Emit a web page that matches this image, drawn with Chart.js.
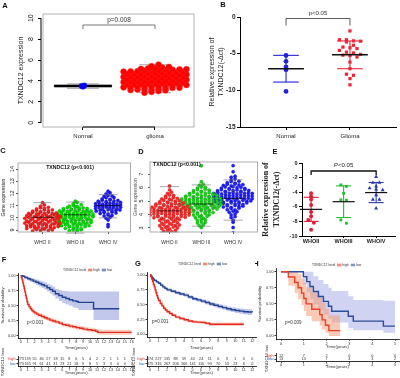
<!DOCTYPE html>
<html>
<head>
<meta charset="utf-8">
<script src="https://cdn.jsdelivr.net/npm/chart.js@4.4.1/dist/chart.umd.min.js"></script>
<style>
  html, body { margin: 0; padding: 0; background: #fff; }
  #wrap { position: relative; width: 400px; height: 378px; overflow: hidden; }
  #wrap canvas { position: absolute; }
</style>
</head>
<body>
<div id="wrap"></div>
<script>
// ---------- A: TXNDC12 expression, Normal vs glioma ----------
const catsA = ['Normal', 'glioma'];
const ticksA = [0, 2, 4, 6, 8, 10];
const normalA = [3.42, 3.47, 3.52, 3.56, 3.61];
const gliomaA = [
  2.88, 2.96, 3.05, 3.11,
  3.14, 3.18, 3.21, 3.24, 3.27, 3.31, 3.34, 3.36,
  3.39, 3.42, 3.44, 3.47, 3.49, 3.52, 3.55, 3.57, 3.6, 3.62,
  3.64, 3.67, 3.7, 3.73, 3.75, 3.78, 3.81, 3.84, 3.86,
  3.89, 3.91, 3.94, 3.97, 3.99, 4.02, 4.05, 4.07, 4.1, 4.12,
  4.14, 4.17, 4.2, 4.23, 4.26, 4.28, 4.31, 4.34, 4.36,
  4.39, 4.41, 4.44, 4.47, 4.49, 4.52, 4.55, 4.57, 4.6, 4.62,
  4.64, 4.67, 4.7, 4.73, 4.76, 4.78, 4.81, 4.84, 4.86,
  4.89, 4.91, 4.94, 4.97, 5.0, 5.02, 5.05, 5.08, 5.1, 5.12,
  5.15, 5.19, 5.24, 5.29, 5.33,
  5.41, 5.56
];
const boxA = [[3.3, 3.45, 3.52, 3.6, 3.72], [2.88, 3.6, 4.1, 4.6, 5.55]];
const pA = 'p=0.008';

// ---------- B: qPCR Normal vs Glioma ----------
const catsB = ['Normal', 'Glioma'];
const ticksB = [-15, -10, -5, 0];
const normalB = [-5.25, -6.05, -6.8, -7.2, -10.15];
const gliomaB = [-1.9, -3.1, -3.1, -3.25, -3.3, -3.4, -3.85, -4.1, -4.2, -4.3, -4.55, -4.8, -4.9,
  -5.1, -5.2, -5.25, -5.45, -6.15, -7.05, -7.8, -7.95, -8.4, -9.25];
const meanB = [-7.05, -5.16];
const sdB = [1.82, 1.89];
const pB = 'p<0.05';

// ---------- C: TXNDC12 by WHO grade (dataset 1) ----------
const catsC = ['WHO II', 'WHO III', 'WHO IV'];
const ticksC = [9, 10, 11, 12, 13, 14];
const whoC2 = [
  8.92, 9.05, 8.97, 9.08, 8.95, 9.01,
  9.13, 9.27, 9.18, 9.22, 9.11, 9.25, 9.16, 9.2, 9.29,
  9.36, 9.42, 9.31, 9.47, 9.39, 9.44, 9.33, 9.49, 9.41,
  9.57, 9.63, 9.52, 9.68, 9.6, 9.55, 9.66, 9.51, 9.64, 9.58,
  9.74, 9.83, 9.71, 9.88, 9.79, 9.85, 9.76, 9.81, 9.89,
  9.96, 10.04, 9.92, 10.08, 10.01, 9.94, 10.06, 9.98, 10.03, 10.09,
  10.17, 10.24, 10.12, 10.28, 10.19, 10.22, 10.14, 10.26, 10.21,
  10.36, 10.43, 10.32, 10.47, 10.39, 10.45, 10.34, 10.41,
  10.55, 10.62, 10.51, 10.67, 10.58, 10.64,
  10.74, 10.83, 10.77, 10.86,
  10.96, 11.05, 11.24
];
const whoC3 = [
  8.77, 8.84,
  8.94, 9.06, 8.98, 9.03,
  9.14, 9.26, 9.19, 9.23, 9.12, 9.28,
  9.35, 9.44, 9.32, 9.48, 9.38, 9.42, 9.46, 9.36,
  9.57, 9.64, 9.52, 9.68, 9.61, 9.55, 9.66, 9.59, 9.62,
  9.76, 9.84, 9.72, 9.88, 9.79, 9.82, 9.74, 9.86, 9.8,
  9.95, 10.04, 9.92, 10.07, 9.99, 10.02, 9.97, 10.05, 9.93, 10.09,
  10.16, 10.24, 10.12, 10.27, 10.19, 10.22, 10.14, 10.26, 10.21, 10.18,
  10.35, 10.44, 10.32, 10.48, 10.38, 10.42, 10.36, 10.46, 10.41, 10.33,
  10.56, 10.63, 10.52, 10.68, 10.59, 10.65, 10.54, 10.61, 10.57,
  10.75, 10.84, 10.72, 10.88, 10.79, 10.82, 10.77,
  10.96, 11.04, 10.93, 11.07,
  11.16, 11.26, 11.37
];
const whoC4 = [
  9.27, 9.45, 9.83, 9.96, 10.05,
  10.16, 10.24, 10.19,
  10.36, 10.44, 10.32, 10.47, 10.4,
  10.55, 10.63, 10.52, 10.67, 10.58, 10.61, 10.65,
  10.76, 10.84, 10.72, 10.88, 10.79, 10.82, 10.74, 10.86,
  10.95, 11.04, 10.92, 11.08, 10.99, 11.02, 10.97, 11.06,
  11.16, 11.24, 11.12, 11.28, 11.19, 11.22, 11.14, 11.26,
  11.36, 11.44, 11.32, 11.47, 11.39, 11.42,
  11.56, 11.64, 11.52, 11.67,
  11.76, 11.84, 11.79,
  11.97, 12.06, 12.18
];
const boxC = [[9.0, 9.55, 10.05, 10.45, 11.25], [8.75, 9.8, 10.25, 10.65, 11.3], [10.0, 10.75, 11.0, 11.3, 11.9]];
const titleC = 'TXNDC12 (p<0.001)';

// ---------- D: TXNDC12 by WHO grade (dataset 2) ----------
const catsD = ['WHO II', 'WHO III', 'WHO IV'];
const ticksD = [3, 4, 5, 6, 7];
const whoD2 = [
  6.12, 5.83, 5.57, 5.66, 5.36, 5.44, 5.41,
  5.16, 5.24, 5.13, 5.27, 5.2,
  4.95, 5.04, 4.92, 5.07, 4.98, 5.02,
  4.76, 4.84, 4.72, 4.88, 4.79, 4.82, 4.74, 4.86,
  4.55, 4.64, 4.52, 4.68, 4.59, 4.62, 4.54, 4.66, 4.57, 4.61,
  4.36, 4.44, 4.32, 4.47, 4.38, 4.42, 4.34, 4.46, 4.39, 4.41, 4.37,
  4.16, 4.24, 4.12, 4.27, 4.18, 4.22, 4.14, 4.26, 4.19, 4.21, 4.17,
  3.95, 4.04, 3.92, 4.07, 3.98, 4.02, 3.94, 4.06, 3.99, 4.01, 3.96,
  3.76, 3.84, 3.72, 3.87, 3.79, 3.82, 3.74, 3.86, 3.8,
  3.56, 3.64, 3.52, 3.67, 3.59, 3.62,
  3.36, 3.44, 3.33, 3.47, 3.4,
  3.16, 3.24, 3.12, 3.27, 3.19, 3.22,
  2.96, 3.04, 2.93, 3.07, 3.0,
  2.76, 2.84, 2.73, 2.81, 2.65, 2.58
];
const whoD3 = [
  7.62, 6.43, 6.17, 6.24, 5.96, 6.04, 6.01,
  5.76, 5.84, 5.72, 5.87, 5.8,
  5.56, 5.64, 5.52, 5.67, 5.59, 5.62, 5.54,
  5.36, 5.44, 5.32, 5.47, 5.39, 5.42, 5.34, 5.46, 5.41,
  5.16, 5.24, 5.12, 5.27, 5.19, 5.22, 5.14, 5.26, 5.18, 5.21, 5.17,
  4.96, 5.04, 4.92, 5.07, 4.99, 5.02, 4.94, 5.06, 4.97, 5.01, 4.95,
  4.76, 4.84, 4.72, 4.87, 4.79, 4.82, 4.74, 4.86, 4.78, 4.81, 4.77,
  4.56, 4.64, 4.52, 4.67, 4.59, 4.62, 4.54, 4.66, 4.58, 4.61,
  4.36, 4.44, 4.32, 4.47, 4.39, 4.42, 4.34, 4.46, 4.41,
  4.16, 4.24, 4.12, 4.27, 4.19, 4.22, 4.14,
  3.96, 4.04, 3.92, 4.07, 3.99,
  3.76, 3.84, 3.73, 3.87,
  3.56, 3.64, 3.61, 3.36, 3.44, 3.41,
  3.17, 3.24, 3.03
];
const whoD4 = [
  7.63, 7.18, 6.77, 6.84, 6.56, 6.64,
  6.36, 6.44, 6.33, 6.47,
  6.16, 6.24, 6.12, 6.27, 6.19, 6.22,
  5.96, 6.04, 5.92, 6.07, 5.99, 6.02, 5.94,
  5.76, 5.84, 5.72, 5.87, 5.79, 5.82, 5.74, 5.86, 5.78,
  5.56, 5.64, 5.52, 5.67, 5.59, 5.62, 5.54, 5.66, 5.58, 5.61, 5.57,
  5.36, 5.44, 5.32, 5.47, 5.39, 5.42, 5.34, 5.46, 5.38, 5.41, 5.37,
  5.16, 5.24, 5.12, 5.27, 5.19, 5.22, 5.14, 5.26, 5.18, 5.21, 5.17,
  4.96, 5.04, 4.92, 5.07, 4.99, 5.02, 4.94, 5.06, 4.98, 5.01,
  4.76, 4.84, 4.72, 4.87, 4.79, 4.82, 4.74, 4.86,
  4.56, 4.64, 4.52, 4.67, 4.59, 4.62,
  4.36, 4.44, 4.33, 4.47, 4.17, 4.24, 4.21,
  3.96, 4.04, 3.77, 3.84, 3.58, 3.42, 3.03, 2.63
];
const boxD = [[2.7, 3.75, 4.27, 4.75, 6.07], [3.13, 4.3, 4.78, 5.25, 6.2], [3.58, 4.75, 5.2, 5.65, 6.57]];
const titleD = 'TXNDC12 (p<0.001)';

// ---------- E: qPCR by WHO grade ----------
const catsE = ['WHOII', 'WHOIII', 'WHOIV'];
const ticksE = [-10, -8, -6, -4, -2, 0];
const whoE2 = [-4.15, -4.6, -5.0, -5.75, -6.7, -7.3, -7.8, -8.2, -9.15];
const whoE3 = [-3.0, -3.2, -4.15, -5.05, -5.1, -7.8, -8.25];
const whoE4 = [-1.9, -2.7, -2.7, -3.2, -3.45, -3.6, -3.7, -4.4, -5.0, -5.0, -6.2];
const meanE = [-6.35, -5.3, -4.05];
const sdE = [1.65, 2.17, 1.38];
const pE = 'P<0.05';

// ---------- F/G/H: Kaplan-Meier ----------
const groupsKM = ['high', 'low'];
const kmTicks = [0, 0.25, 0.5, 0.75, 1];

const fHiT = [0, 0.1, 0.2, 0.3, 0.4, 0.5, 0.6, 0.7, 0.8, 0.9, 1.0, 1.2, 1.4, 1.6, 1.8, 2.0, 2.3, 2.6, 3.0, 3.4, 3.8, 4.2, 4.6, 5.0, 5.5, 6.0, 6.5, 7.0, 7.5, 8.0, 8.5, 9.0, 9.6, 10.2, 10.8, 11.1, 16];
const fHiS = [1, 0.97, 0.93, 0.88, 0.83, 0.78, 0.73, 0.67, 0.62, 0.57, 0.52, 0.48, 0.45, 0.42, 0.40, 0.38, 0.36, 0.34, 0.32, 0.30, 0.28, 0.26, 0.245, 0.23, 0.21, 0.185, 0.175, 0.16, 0.15, 0.135, 0.125, 0.11, 0.10, 0.09, 0.075, 0.055, 0.055];
const fHiUp = [1, 0.99, 0.96, 0.91, 0.86, 0.81, 0.76, 0.70, 0.655, 0.605, 0.555, 0.515, 0.485, 0.455, 0.435, 0.415, 0.395, 0.375, 0.355, 0.335, 0.315, 0.295, 0.28, 0.265, 0.245, 0.22, 0.21, 0.195, 0.185, 0.17, 0.16, 0.145, 0.135, 0.125, 0.11, 0.1, 0.1];
const fHiLo = [1, 0.95, 0.9, 0.85, 0.8, 0.75, 0.7, 0.64, 0.585, 0.535, 0.485, 0.445, 0.415, 0.385, 0.365, 0.345, 0.325, 0.305, 0.285, 0.265, 0.245, 0.225, 0.21, 0.195, 0.175, 0.15, 0.14, 0.125, 0.115, 0.1, 0.09, 0.075, 0.065, 0.055, 0.04, 0.015, 0.015];
const fLoT = [0, 0.3, 0.6, 1.0, 1.4, 1.8, 2.2, 2.6, 3.0, 3.4, 3.8, 4.2, 4.6, 5.0, 5.5, 6.0, 6.5, 7.0, 7.5, 8.0, 8.3, 10.5, 14.2];
const fLoS = [1, 0.99, 0.97, 0.95, 0.93, 0.91, 0.89, 0.87, 0.85, 0.83, 0.80, 0.77, 0.74, 0.70, 0.67, 0.64, 0.62, 0.60, 0.58, 0.57, 0.555, 0.45, 0.45];
const fLoUp = [1, 1, 0.99, 0.98, 0.965, 0.95, 0.935, 0.92, 0.905, 0.89, 0.865, 0.84, 0.815, 0.78, 0.76, 0.745, 0.74, 0.735, 0.735, 0.735, 0.735, 0.735, 0.735];
const fLoLo = [1, 0.98, 0.95, 0.92, 0.895, 0.87, 0.845, 0.82, 0.795, 0.77, 0.735, 0.70, 0.665, 0.62, 0.58, 0.545, 0.52, 0.50, 0.47, 0.46, 0.43, 0.26, 0.26];
const fYears = [0, 1, 2, 3, 4, 5, 6, 7, 8, 9, 10, 11, 12, 13, 14, 15, 16];
const fRiskHi = [273, 139, 55, 46, 27, 18, 15, 8, 6, 5, 4, 2, 2, 1, 1, 1, 1];
const fRiskLo = [273, 165, 91, 61, 41, 31, 23, 21, 18, 9, 8, 5, 3, 3, 0, 0, 0];
const pF = 'p<0.001';

const gHiT = [0, 0.1, 0.2, 0.3, 0.4, 0.5, 0.6, 0.7, 0.8, 0.9, 1.0, 1.2, 1.4, 1.6, 1.8, 2.0, 2.3, 2.6, 3.0, 3.5, 4.0, 4.5, 5.0, 5.5, 6.0, 6.5, 7.0, 11.0];
const gHiS = [1, 0.97, 0.93, 0.89, 0.84, 0.80, 0.75, 0.70, 0.65, 0.61, 0.57, 0.52, 0.48, 0.44, 0.41, 0.38, 0.35, 0.32, 0.29, 0.265, 0.245, 0.225, 0.21, 0.205, 0.20, 0.185, 0.17, 0.17];
const gHiUp = [1, 0.985, 0.95, 0.91, 0.865, 0.825, 0.775, 0.725, 0.675, 0.635, 0.595, 0.545, 0.505, 0.465, 0.435, 0.405, 0.375, 0.345, 0.315, 0.29, 0.27, 0.25, 0.235, 0.23, 0.225, 0.21, 0.2, 0.2];
const gHiLo = [1, 0.955, 0.91, 0.87, 0.815, 0.775, 0.725, 0.675, 0.625, 0.585, 0.545, 0.495, 0.455, 0.415, 0.385, 0.355, 0.325, 0.295, 0.265, 0.24, 0.22, 0.2, 0.185, 0.18, 0.175, 0.16, 0.14, 0.14];
const gLoT = [0, 0.1, 0.25, 0.4, 0.5, 0.75, 1.0, 1.25, 1.5, 1.75, 2.0, 2.5, 3.0, 3.5, 4.0, 4.5, 5.0, 5.5, 6.0, 6.5, 7.0, 7.5, 8.0, 8.5, 9.0, 9.5, 10.0, 10.5, 11.0, 11.5, 12.0];
const gLoS = [1, 0.98, 0.95, 0.93, 0.91, 0.885, 0.86, 0.83, 0.80, 0.775, 0.75, 0.725, 0.70, 0.68, 0.66, 0.63, 0.60, 0.58, 0.56, 0.535, 0.51, 0.49, 0.47, 0.45, 0.43, 0.415, 0.40, 0.39, 0.38, 0.375, 0.37];
const gLoUp = [1, 0.99, 0.965, 0.95, 0.93, 0.905, 0.88, 0.852, 0.822, 0.799, 0.775, 0.75, 0.726, 0.707, 0.688, 0.66, 0.63, 0.61, 0.592, 0.568, 0.544, 0.525, 0.506, 0.488, 0.47, 0.455, 0.442, 0.434, 0.426, 0.423, 0.42];
const gLoLo = [1, 0.97, 0.935, 0.91, 0.89, 0.865, 0.84, 0.808, 0.778, 0.751, 0.725, 0.7, 0.674, 0.653, 0.632, 0.6, 0.57, 0.55, 0.528, 0.502, 0.476, 0.455, 0.434, 0.412, 0.39, 0.375, 0.358, 0.346, 0.334, 0.327, 0.32];
const gYears = [0, 1, 2, 3, 4, 5, 6, 7, 8, 9, 10, 11, 12];
const gRiskHi = [374, 227, 135, 88, 59, 40, 24, 11, 6, 3, 1, 0, 0];
const gRiskLo = [375, 316, 267, 206, 166, 141, 116, 93, 70, 53, 23, 6, 0];
const pG = 'p=0.001';

const hHiT = [0, 0.32, 0.6, 0.75, 0.9, 1.0, 1.1, 1.35, 1.7, 1.8, 1.95, 2.1, 2.6];
const hHiS = [1, 0.917, 0.833, 0.75, 0.667, 0.583, 0.5, 0.417, 0.333, 0.25, 0.167, 0.083, 0.083];
const hHiUp = [1, 1, 1, 0.96, 0.9, 0.83, 0.76, 0.68, 0.6, 0.52, 0.42, 0.32, 0.32];
const hHiLo = [1, 0.78, 0.67, 0.57, 0.48, 0.39, 0.31, 0.23, 0.16, 0.1, 0.05, 0, 0];
const hLoT = [0, 0.98, 1.13, 1.27, 1.42, 1.64, 1.86, 2.08, 2.22, 2.95, 3.17, 4.49, 5.0];
const hLoS = [1, 0.923, 0.846, 0.769, 0.692, 0.615, 0.538, 0.462, 0.385, 0.308, 0.231, 0.154, 0.154];
const hLoUp = [1, 1, 1, 1, 0.93, 0.87, 0.81, 0.75, 0.7, 0.62, 0.56, 0.55, 0.55];
const hLoLo = [1, 0.8, 0.68, 0.58, 0.49, 0.41, 0.33, 0.27, 0.21, 0.12, 0.09, 0.05, 0.05];
const hYears = [0, 1, 2, 3, 4, 5];
const hRiskHi = [12, 7, 2, 0, 0, 0];
const hRiskLo = [13, 13, 7, 4, 3, 2];
const pH = 'p=0.009';

// ---------- helpers ----------
const SANS = "'Liberation Sans', Arial, sans-serif";
const SERIF = "'Liberation Serif', 'Times New Roman', serif";
Chart.defaults.font.family = SANS;
Chart.defaults.color = '#222';
Chart.defaults.animation = false;
Chart.defaults.events = [];
Chart.defaults.plugins.legend.display = false;
Chart.defaults.plugins.tooltip.enabled = false;

function seg(ctx, x1, y1, x2, y2) {
  ctx.beginPath(); ctx.moveTo(x1, y1); ctx.lineTo(x2, y2); ctx.stroke();
}

function txt(ctx, s, x, y, size, opt = {}) {
  ctx.save();
  ctx.font = (opt.bold ? 'bold ' : '') + size + 'px ' + (opt.family || SANS);
  ctx.fillStyle = opt.color || '#222';
  ctx.textAlign = opt.align || 'left';
  ctx.textBaseline = 'middle';
  ctx.translate(x, y);
  if (opt.rot) ctx.rotate(opt.rot);
  ctx.fillText(s, 0, 0);
  const w = ctx.measureText(s).width;
  ctx.restore();
  return w;
}

// beeswarm-like layout: values binned into rows, spread around the group centre
function swarm(vals, center, rowH, dx, maxHalf) {
  const bins = new Map();
  vals.forEach(v => {
    const k = Math.round(v / rowH);
    if (!bins.has(k)) bins.set(k, []);
    bins.get(k).push(v);
  });
  const out = [];
  bins.forEach(list => {
    const n = list.length;
    const step = n > 1 ? Math.min(dx, 2 * maxHalf / (n - 1)) : 0;
    list.forEach((v, i) => out.push({x: center + (i - (n - 1) / 2) * step, y: v}));
  });
  return out;
}

function axis(p) {
  const font = (size, bold, family) => {
    const f = {size: size, weight: bold ? 'bold' : 'normal'};
    if (family) f.family = family;
    return f;
  };
  const tf = font(p.tsize || 6, p.tbold, p.tfamily);
  tf.lineHeight = p.tlh || 1.2;
  return {
    type: 'linear', min: p.min, max: p.max,
    afterBuildTicks: sc => { sc.ticks = p.ticks.map(v => ({value: v})); },
    ticks: {
      display: p.labels !== false,
      callback: p.fmt || (v => String(v)),
      autoSkip: false, minRotation: 0, maxRotation: 0,
      padding: p.pad ?? 2,
      color: p.color || '#222',
      font: font(p.size || 6, p.bold, p.family)
    },
    grid: {drawOnChartArea: false, drawTicks: true, tickLength: p.tl ?? 3, color: p.tc || '#000', lineWidth: p.tw || 1},
    border: {display: p.border !== false, color: p.bc || '#000', width: p.bw || 1},
    title: {display: !!p.title, text: p.title || '', color: p.titleColor || '#222', padding: p.tpad ?? 0, font: tf}
  };
}

// R-style y tick labels, written parallel to the axis
function rotTicks(ctx, chart, ticks, size, off, color) {
  const y = chart.scales.y, a = chart.chartArea;
  ticks.forEach(v => txt(ctx, String(v), a.left - off, y.getPixelForValue(v), size,
    {rot: -Math.PI / 2, align: 'center', color: color}));
}

function panel(x0, y0, w, h, area, config, hooks) {
  const c = document.createElement('canvas');
  c.width = w; c.height = h;
  c.style.left = x0 + 'px'; c.style.top = y0 + 'px';
  c.style.width = w + 'px'; c.style.height = h + 'px';
  document.getElementById('wrap').appendChild(c);
  const o = config.options;
  o.responsive = false; o.maintainAspectRatio = false; o.devicePixelRatio = 1;
  o.layout = {padding: {left: 0, bottom: 0, top: area.t - y0, right: x0 + w - area.r}};
  o.scales.x.afterFit = s => { s.height = y0 + h - area.b; };
  o.scales.y.afterFit = s => { s.width = area.l - x0; };
  const ctx = c.getContext('2d');
  const T = (s, x, y, size, opt) => txt(ctx, s, x - x0, y - y0, size, opt);
  const hook = k => chart => {
    if (hooks && hooks[k]) { ctx.save(); hooks[k](chart, ctx, T); ctx.restore(); }
  };
  config.plugins = [{id: 'deco', beforeDatasetsDraw: hook('before'), afterDatasetsDraw: hook('after')}];
  return new Chart(c, config);
}

function drawBoxes(ctx, chart, stats, o) {
  const {x, y} = chart.scales;
  const X = v => x.getPixelForValue(v), Y = v => y.getPixelForValue(v);
  stats.forEach((s, i) => {
    const c = i + 1;
    ctx.strokeStyle = o.color; ctx.lineWidth = o.lw;
    ctx.setLineDash(o.dash || []);
    seg(ctx, X(c), Y(s[4]), X(c), Y(s[3]));
    seg(ctx, X(c), Y(s[1]), X(c), Y(s[0]));
    ctx.setLineDash([]);
    seg(ctx, X(c - o.cap), Y(s[4]), X(c + o.cap), Y(s[4]));
    seg(ctx, X(c - o.cap), Y(s[0]), X(c + o.cap), Y(s[0]));
    ctx.strokeStyle = o.boxColor || o.color;
    ctx.strokeRect(X(c - o.w), Y(s[3]), X(c + o.w) - X(c - o.w), Y(s[1]) - Y(s[3]));
    ctx.strokeStyle = o.med; ctx.lineWidth = o.medLw;
    seg(ctx, X(c - o.w), Y(s[2]), X(c + o.w), Y(s[2]));
  });
}

function drawErr(ctx, chart, means, sds, cols, o) {
  const {x, y} = chart.scales;
  const X = v => x.getPixelForValue(v), Y = v => y.getPixelForValue(v);
  means.forEach((m, i) => {
    const c = i + 1, top = Y(m + sds[i]), bot = Y(m - sds[i]);
    ctx.strokeStyle = cols[i]; ctx.lineWidth = o.lw;
    seg(ctx, X(c), top, X(c), bot);
    seg(ctx, X(c - o.cap), top, X(c + o.cap), top);
    seg(ctx, X(c - o.cap), bot, X(c + o.cap), bot);
    ctx.strokeStyle = '#111'; ctx.lineWidth = o.meanLw;
    seg(ctx, X(c - o.mw), Y(m), X(c + o.mw), Y(m));
  });
}

function bracket(ctx, chart, a, b, yPix, drop, color, lw) {
  const x = chart.scales.x;
  const xa = x.getPixelForValue(a), xb = x.getPixelForValue(b);
  ctx.strokeStyle = color; ctx.lineWidth = lw;
  ctx.beginPath();
  ctx.moveTo(xa, yPix + drop); ctx.lineTo(xa, yPix); ctx.lineTo(xb, yPix); ctx.lineTo(xb, yPix + drop);
  ctx.stroke();
  return (xa + xb) / 2;
}

function frame(ctx, chart, color, inset) {
  const a = chart.chartArea;
  ctx.strokeStyle = color; ctx.lineWidth = 0.8;
  ctx.strokeRect(a.left + (inset || 0), a.top, a.right - a.left - (inset || 0), a.bottom - a.top);
}

function pts(t, v) { return t.map((x, i) => ({x: x, y: v[i]})); }

function kmConfig(curves, axes) {
  const ds = [];
  curves.forEach(c => ds.push({data: pts(c.t, c.s), borderColor: c.line, borderWidth: 1.4, pointRadius: 0, stepped: true, fill: false}));
  curves.forEach(c => {
    ds.push({data: pts(c.t, c.up), borderColor: 'rgba(0,0,0,0)', borderWidth: 0.1, pointRadius: 0, stepped: true, fill: '+1', backgroundColor: c.fill});
    ds.push({data: pts(c.t, c.lo), borderColor: 'rgba(0,0,0,0)', borderWidth: 0.1, pointRadius: 0, stepped: true, fill: false});
  });
  return {type: 'line', data: {datasets: ds}, options: {scales: axes}};
}

function riskConfig(years, hi, lo, axes) {
  return {
    type: 'scatter',
    data: {datasets: [
      {data: years.map((t, i) => ({x: t, y: 2, n: hi[i]})), pointRadius: 0},
      {data: years.map((t, i) => ({x: t, y: 1, n: lo[i]})), pointRadius: 0}
    ]},
    options: {scales: axes}
  };
}

function drawRisk(chart, ctx, size) {
  ctx.font = size + 'px ' + SANS;
  ctx.fillStyle = '#333'; ctx.textAlign = 'center'; ctx.textBaseline = 'middle';
  chart.data.datasets.forEach((d, k) => {
    chart.getDatasetMeta(k).data.forEach((el, i) => ctx.fillText(String(d.data[i].n), el.x, el.y));
  });
}

function legendKM(ctx, ox, oy, x, y, size, title, names, lines, fills) {
  ctx.save();
  ctx.font = size + 'px ' + SANS; ctx.textBaseline = 'middle'; ctx.fillStyle = '#333';
  let cx = x - ox; const cy = y - oy;
  ctx.fillText(title, cx, cy);
  cx += ctx.measureText(title).width + size * 0.5;
  names.forEach((n, i) => {
    const kw = size * 1.25, kh = size * 1.05;
    ctx.fillStyle = fills[i]; ctx.fillRect(cx, cy - kh / 2, kw, kh);
    ctx.strokeStyle = lines[i]; ctx.lineWidth = 0.9; seg(ctx, cx, cy, cx + kw, cy);
    cx += kw + size * 0.3;
    ctx.fillStyle = '#333'; ctx.fillText(n, cx, cy);
    cx += ctx.measureText(n).width + size * 0.6;
  });
  ctx.restore();
}

// ---------- A ----------
panel(0, 0, 200, 145, {l: 41, r: 194, t: 14, b: 127}, {
  type: 'scatter',
  data: {datasets: [
    {data: swarm(normalA, 1, 0.1, 0.04, 0.1), pointRadius: 2.4, pointBackgroundColor: '#0000ff', pointBorderColor: '#0000ee', pointBorderWidth: 0.3},
    {data: swarm(gliomaA, 2, 0.25, 0.097, 0.46), pointRadius: 3, pointBackgroundColor: '#ff0000', pointBorderColor: '#ff2020', pointBorderWidth: 0.5}
  ]},
  options: {scales: {
    x: axis({min: 0.4167, max: 2.5417, ticks: [1, 2], fmt: v => catsA[v - 1], size: 6, tl: 3, pad: 3, border: false}),
    y: axis({min: -0.4, max: 10.4, ticks: ticksA, labels: false, tl: 3, border: false,
             title: 'TXNDC12 expression', tsize: 7, tpad: 16.5})
  }}
}, {
  before: (chart, ctx) => {
    frame(ctx, chart, '#a0a0a0', 2);
    drawBoxes(ctx, chart, boxA, {color: '#8c8c8c', lw: 0.8, dash: [2, 1.5], w: 0.4, cap: 0.22, med: '#000', medLw: 2.5});
  },
  after: (chart, ctx, T) => {
    const {x, y} = chart.scales, a = chart.chartArea;
    ctx.strokeStyle = '#000'; ctx.lineWidth = 1;
    seg(ctx, a.left, y.getPixelForValue(ticksA[0]), a.left, y.getPixelForValue(ticksA[ticksA.length - 1]));
    seg(ctx, x.getPixelForValue(1), a.bottom, x.getPixelForValue(2), a.bottom);
    rotTicks(ctx, chart, ticksA, 7, 9.5, '#111');
    const mid = bracket(ctx, chart, 1, 2, a.top + 11, 4, '#555', 0.8);
    txt(ctx, pA, mid, a.top + 6, 6.5, {align: 'center', color: '#333'});
    T('A', 5, 6, 7.5, {bold: true, align: 'center', color: '#111'});
  }
});

// ---------- B ----------
const colB = ['#2323d8', '#e8283a'];
panel(200, 0, 200, 145, {l: 240, r: 396, t: 17, b: 127}, {
  type: 'scatter',
  data: {datasets: [
    {data: swarm(normalB, 1, 0.6, 0.11, 0.3), pointRadius: 2.4, pointBackgroundColor: colB[0], pointBorderColor: colB[0], pointBorderWidth: 0},
    {data: swarm(gliomaB, 2, 0.6, 0.11, 0.32), pointStyle: 'rect', pointRadius: 2.3, pointBackgroundColor: colB[1], pointBorderColor: colB[1], pointBorderWidth: 0}
  ]},
  options: {scales: {
    x: axis({min: 0.28, max: 2.72, ticks: [1, 2], fmt: v => catsB[v - 1], size: 6, tl: 3, pad: 3}),
    y: axis({min: -15, max: 0, ticks: ticksB, size: 6.5, bold: true, tl: 3, pad: 1.5,
             title: ['Relative expression of', 'TXNDC12(-\u0394ct)'], tsize: 7, tlh: 1.3, tpad: 7.5})
  }}
}, {
  after: (chart, ctx, T) => {
    const a = chart.chartArea;
    drawErr(ctx, chart, meanB, sdB, colB, {lw: 1.1, cap: 0.2, mw: 0.28, meanLw: 1.5});
    const mid = bracket(ctx, chart, 1, 2, a.top + 1.5, 7, '#333', 0.8);
    txt(ctx, pB, mid, a.top - 4, 6, {align: 'center', color: '#333'});
    T('B', 223, 5, 7.5, {bold: true, align: 'center', color: '#111'});
  }
});

// ---------- C ----------
panel(0, 140, 135, 110, {l: 18, r: 133, t: 163, b: 232}, {
  type: 'scatter',
  data: {datasets: [
    {data: swarm(whoC2, 1, 0.2, 0.12, 0.58), pointRadius: 1.7, pointBackgroundColor: '#ff1a1a', pointBorderColor: 'rgba(150,0,0,0.55)', pointBorderWidth: 0.4},
    {data: swarm(whoC3, 2, 0.2, 0.12, 0.58), pointRadius: 1.7, pointBackgroundColor: '#00dd00', pointBorderColor: 'rgba(0,110,0,0.55)', pointBorderWidth: 0.4},
    {data: swarm(whoC4, 3, 0.2, 0.12, 0.38), pointRadius: 1.7, pointBackgroundColor: '#1a1aff', pointBorderColor: 'rgba(0,0,130,0.55)', pointBorderWidth: 0.4}
  ]},
  options: {scales: {
    x: axis({min: 0.254, max: 3.687, ticks: [1, 2, 3], fmt: v => catsC[v - 1], size: 5, tl: 2, pad: 6, border: false, tc: '#555', color: '#333'}),
    y: axis({min: 8.84, max: 14.5, ticks: ticksC, labels: false, tl: 2, border: false, tc: '#555',
             title: 'Gene expression', tsize: 5, tpad: 1})
  }}
}, {
  after: (chart, ctx, T) => {
    drawBoxes(ctx, chart, boxC, {color: 'rgba(110,110,110,0.85)', boxColor: 'rgba(90,90,90,0.35)', lw: 0.7, dash: [1.5, 1], w: 0.36, cap: 0.28, med: 'rgba(0,0,0,0.7)', medLw: 1});
    frame(ctx, chart, '#999', 0);
    rotTicks(ctx, chart, ticksC, 5.5, 6, '#222');
    T(titleC, 70, 168, 5.2, {bold: true, align: 'center', color: '#111'});
    T('C', 3, 151, 7.5, {bold: true, align: 'center', color: '#111'});
  }
});

// ---------- D ----------
panel(131, 140, 131, 110, {l: 150, r: 260, t: 162, b: 232}, {
  type: 'scatter',
  data: {datasets: [
    {data: swarm(whoD2, 1, 0.2, 0.123, 0.62), pointRadius: 1.7, pointBackgroundColor: '#ff2a2a', pointBorderColor: 'rgba(150,0,0,0.55)', pointBorderWidth: 0.4},
    {data: swarm(whoD3, 2, 0.2, 0.123, 0.62), pointRadius: 1.7, pointBackgroundColor: '#19d219', pointBorderColor: 'rgba(0,110,0,0.55)', pointBorderWidth: 0.4},
    {data: swarm(whoD4, 3, 0.2, 0.123, 0.6), pointRadius: 1.7, pointBackgroundColor: '#1f1fff', pointBorderColor: 'rgba(0,0,130,0.55)', pointBorderWidth: 0.4}
  ]},
  options: {scales: {
    x: axis({min: 0.385, max: 3.77, ticks: [1, 2, 3], fmt: v => catsD[v - 1], size: 5, tl: 2, pad: 6, border: false, tc: '#555', color: '#333'}),
    y: axis({min: 2.7, max: 7.9, ticks: ticksD, labels: false, tl: 2, border: false, tc: '#555',
             title: 'Gene expression', tsize: 5, tpad: 2, titleColor: '#555'})
  }}
}, {
  after: (chart, ctx, T) => {
    drawBoxes(ctx, chart, boxD, {color: 'rgba(110,110,110,0.85)', boxColor: 'rgba(90,90,90,0.35)', lw: 0.7, dash: [1.5, 1], w: 0.36, cap: 0.3, med: 'rgba(0,0,0,0.7)', medLw: 1});
    frame(ctx, chart, '#999', 0);
    rotTicks(ctx, chart, ticksD, 5.5, 8.5, '#222');
    T(titleD, 153, 164.5, 5.2, {bold: true, color: '#111'});
    T('D', 141, 152, 7.5, {bold: true, align: 'center', color: '#111'});
  }
});

// ---------- E ----------
const colE = ['#e0203c', '#1fbf2f', '#2a3aa8'];
panel(258, 140, 142, 110, {l: 302, r: 395, t: 163, b: 236}, {
  type: 'scatter',
  data: {datasets: [
    {data: swarm(whoE2, 1, 0.5, 0.17, 0.3), pointRadius: 2, pointBackgroundColor: colE[0], pointBorderWidth: 0},
    {data: swarm(whoE3, 2, 0.5, 0.17, 0.3), pointStyle: 'rect', pointRadius: 2, pointBackgroundColor: colE[1], pointBorderWidth: 0},
    {data: swarm(whoE4, 3, 0.5, 0.2, 0.35), pointStyle: 'triangle', pointRadius: 2.3, pointBackgroundColor: colE[2], pointBorderWidth: 0}
  ]},
  options: {scales: {
    x: axis({min: 0.72, max: 3.58, ticks: [1, 2, 3], fmt: v => catsE[v - 1], size: 5.5, bold: true, tl: 2, pad: 0.5}),
    y: axis({min: -10, max: 0, ticks: ticksE, size: 5.5, bold: true, tl: 3, pad: 1.5,
             title: ['Relative expression of', 'TXNDC12(-\u0394ct)'], tsize: 8, tbold: true, tfamily: SERIF, tlh: 1.4, tpad: 1.9})
  }}
}, {
  after: (chart, ctx, T) => {
    const a = chart.chartArea;
    drawErr(ctx, chart, meanE, sdE, colE, {lw: 1.1, cap: 0.23, mw: 0.34, meanLw: 1.2});
    const mid = bracket(ctx, chart, 1, 3, a.top + 8, 4, '#111', 1.3);
    txt(ctx, pE, mid, a.top + 2.5, 6, {align: 'center', color: '#222'});
    T('E', 275, 152, 7.5, {bold: true, align: 'center', color: '#111'});
  }
});

// ---------- KM panels ----------
const kmRed = '#e32b24', kmBlue = '#22418f';
const kmRedFill = 'rgba(244,140,100,0.42)', kmBlueFill = 'rgba(95,110,205,0.38)';
const riskColor = c => (c.tick && c.tick.value === 2 ? '#e32b24' : '#2a70b8');

function kmAxes(xmin, xmax, years, ymin, ymax, ttl, ypad, xpad) {
  return {
    x: axis({min: xmin, max: xmax, ticks: years, size: 3.8, tl: 1.5, pad: 0.5, color: '#333', bw: 0.8, tw: 0.8,
             title: 'Time(years)', tsize: 4.3, tpad: xpad, titleColor: '#333'}),
    y: axis({min: ymin, max: ymax, ticks: kmTicks, fmt: v => v.toFixed(2), size: 3.8, tl: 1.5, pad: 1, color: '#333', bw: 0.8, tw: 0.8,
             title: ttl, tsize: 4.3, tpad: ypad, titleColor: '#333'})
  };
}
function riskAxes(xmin, xmax, years, ypad, xpad) {
  return {
    x: axis({min: xmin, max: xmax, ticks: years, size: 3.8, tl: 1, pad: 0.3, color: '#333', bw: 0.8, tw: 0.8,
             title: 'Time(years)', tsize: 4.3, tpad: xpad, titleColor: '#333'}),
    y: axis({min: 0.3, max: 2.7, ticks: [1, 2], fmt: v => groupsKM[2 - v], size: 3.8, tl: 1.5, pad: 1, color: riskColor, bw: 0.8, tw: 0.8,
             title: 'TXNDC12 level', tsize: 4.3, tpad: ypad, titleColor: '#333'})
  };
}

// F
panel(0, 255, 137, 97, {l: 18, r: 134.5, t: 273, b: 338}, kmConfig([
  {t: fHiT, s: fHiS, up: fHiUp, lo: fHiLo, line: kmRed, fill: kmRedFill},
  {t: fLoT, s: fLoS, up: fLoUp, lo: fLoLo, line: kmBlue, fill: kmBlueFill}
], kmAxes(-0.39, 16.4, fYears, -0.038, 1.045, 'Survival probability', 0.7, 1.9)), {
  after: (chart, ctx, T) => {
    legendKM(ctx, 0, 255, 63, 270, 3.4, 'TXNDC12 level', groupsKM, [kmRed, kmBlue], [kmRedFill, kmBlueFill]);
    T(pF, 27, 323, 4.5, {color: '#333'});
    T('F', 4, 260, 7.5, {bold: true, align: 'center', color: '#111'});
  }
});
panel(0, 348, 137, 30, {l: 18, r: 134.5, t: 356.3, b: 366.7},
  riskConfig(fYears, fRiskHi, fRiskLo, riskAxes(-0.39, 16.4, fYears, 0.4, 2.4)), {
  after: (chart, ctx) => drawRisk(chart, ctx, 3.8)
});

// G
panel(135, 255, 127, 97, {l: 147, r: 256, t: 272, b: 337}, kmConfig([
  {t: gHiT, s: gHiS, up: gHiUp, lo: gHiLo, line: kmRed, fill: kmRedFill},
  {t: gLoT, s: gLoS, up: gLoUp, lo: gLoLo, line: kmBlue, fill: kmBlueFill}
], kmAxes(-0.35, 12.43, gYears, -0.046, 1.051, '', 0, 1.9)), {
  after: (chart, ctx, T) => {
    legendKM(ctx, 135, 255, 178, 264, 3.4, 'TXNDC12 level', groupsKM, [kmRed, kmBlue], [kmRedFill, kmBlueFill]);
    T(pG, 152, 322, 4.5, {color: '#333'});
    T('G', 138, 264, 7.5, {bold: true, align: 'center', color: '#111'});
  }
});
panel(128, 348, 134, 30, {l: 147, r: 256, t: 356.3, b: 366.7},
  riskConfig(gYears, gRiskHi, gRiskLo, riskAxes(-0.35, 12.43, gYears, 3.4, 2.4)), {
  after: (chart, ctx) => drawRisk(chart, ctx, 3.8)
});

// H
const hRed = '#e8402a', hBlue = '#2c4c9c';
const hRedFill = 'rgba(248,150,110,0.5)', hBlueFill = 'rgba(120,130,215,0.35)';
panel(255, 255, 145, 97, {l: 276, r: 399, t: 268.5, b: 339.2}, kmConfig([
  {t: hHiT, s: hHiS, up: hHiUp, lo: hHiLo, line: hRed, fill: hRedFill},
  {t: hLoT, s: hLoS, up: hLoUp, lo: hLoLo, line: hBlue, fill: hBlueFill}
], kmAxes(-0.22, 5.175, hYears, -0.05, 1.05, 'Survival probability', 2.4, 2.4)), {
  after: (chart, ctx, T) => {
    legendKM(ctx, 255, 255, 312, 265, 3.4, 'TXNDC12 level', groupsKM, [hRed, hBlue], [hRedFill, hBlueFill]);
    T(pH, 285, 323, 4.5, {color: '#333'});
    T('H', 256, 264, 7.5, {bold: true, align: 'center', color: '#111'});
  }
});
panel(255, 345, 145, 27, {l: 276, r: 399, t: 353.2, b: 361.8},
  riskConfig(hYears, hRiskHi, hRiskLo, riskAxes(-0.22, 5.175, hYears, 9.4, 2.4)), {
  after: (chart, ctx) => drawRisk(chart, ctx, 3.8)
});
</script>
</body>
</html>
